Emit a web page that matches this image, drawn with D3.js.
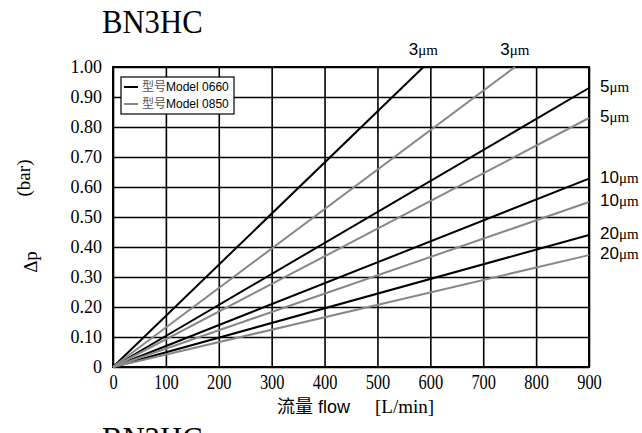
<!DOCTYPE html>
<html>
<head>
<meta charset="utf-8">
<script src="https://cdn.jsdelivr.net/npm/d3@7/dist/d3.min.js"></script>
<style>
  body { margin: 0; background: #fff; }
  svg { display: block; }
</style>
</head>
<body>
<div id="chart"></div>
<script>
// chart data
var flowTicks = [0, 100, 200, 300, 400, 500, 600, 700, 800, 900];
var dpTicks = [0, 0.1, 0.2, 0.3, 0.4, 0.5, 0.6, 0.7, 0.8, 0.9, 1.0];
var models = ["型号Model 0660", "型号Model 0850"];
var modelColors = ["#000000", "#888888"];
var grades = ["3", "5", "10", "20"];
// end point [flow, dp] of each straight line from origin
var model0660 = [[587, 1.00], [900, 0.93], [900, 0.628], [900, 0.44]];
var model0850 = [[760, 1.00], [900, 0.83], [900, 0.55], [900, 0.373]];

var W = 642, H = 433;
var svg = d3.select("#chart").append("svg").attr("width", W).attr("height", H);

var x = d3.scaleLinear().domain([0, 900]).range([113, 589]);
var y = d3.scaleLinear().domain([0, 1]).range([367, 67]);

var serif = "'Liberation Serif', 'DejaVu Serif', serif";
var sans = "'Liberation Sans', Arial, sans-serif";
var cjk = "'Noto Sans CJK SC', sans-serif";

// title (and the top of the next one cut off at the bottom)
svg.append("text").attr("transform", "translate(102,33) scale(0.93,1)").text("BN3HC")
  .attr("font-family", serif).attr("font-size", 33);
svg.append("text").attr("transform", "translate(102,450) scale(0.93,1)").text("BN3HC")
  .attr("font-family", serif).attr("font-size", 33);

// grid via axes
var xAxis = d3.axisBottom(x).tickValues(flowTicks).tickSize(-(y(0) - y(1))).tickPadding(8);
var gx = svg.append("g").attr("transform", "translate(0," + y(0) + ")").call(xAxis);
var yAxis = d3.axisLeft(y).tickValues(dpTicks).tickSize(-(x(900) - x(0))).tickPadding(11)
  .tickFormat(function (d) { return d === 0 ? "0" : d3.format(".2f")(d); });
var gy = svg.append("g").attr("transform", "translate(" + x(0) + ",0)").call(yAxis);

[gx, gy].forEach(function (g) {
  g.select(".domain").remove();
  g.selectAll("line").attr("stroke", "#000").attr("stroke-width", 1.6);
  g.selectAll("text").attr("font-family", serif).attr("font-size", 18).attr("fill", "#000");
});
gx.selectAll("text").attr("dy", "0.71em").attr("font-size", 20).attr("transform", "scale(0.82,1)");

// frame
svg.append("rect")
  .attr("x", x(0)).attr("y", y(1))
  .attr("width", x(900) - x(0)).attr("height", y(0) - y(1))
  .attr("fill", "none").attr("stroke", "#000").attr("stroke-width", 2);

// lines
var line = d3.line().x(function (d) { return x(d[0]); }).y(function (d) { return y(d[1]); });
[model0660, model0850].forEach(function (ends, mi) {
  ends.forEach(function (e) {
    svg.append("path").datum([[0, 0], e]).attr("d", line)
      .attr("fill", "none").attr("stroke", modelColors[mi]).attr("stroke-width", 2);
  });
});

// grade labels
function gradeLabel(px, py, g, anchor) {
  var t = svg.append("text").attr("x", px).attr("y", py).attr("text-anchor", anchor)
    .attr("fill", "#000");
  t.append("tspan").text(g).attr("font-family", sans).attr("font-size", 17);
  t.append("tspan").text("μm").attr("font-family", serif).attr("font-size", 15);
}
[model0660, model0850].forEach(function (ends, mi) {
  ends.forEach(function (e, gi) {
    if (e[1] >= 1) {
      gradeLabel(x(e[0]) + 0, y(1) - 12, grades[gi], "middle");
    } else {
      gradeLabel(x(900) + 11, y(e[1]) + 4, grades[gi], "start");
    }
  });
});

// legend
var lg = svg.append("g").attr("transform", "translate(121,77)");
lg.append("rect").attr("width", 113).attr("height", 37)
  .attr("fill", "#fff").attr("stroke", "#000").attr("stroke-width", 1.2);
models.forEach(function (m, i) {
  var yy = 10 + i * 17;
  lg.append("line").attr("x1", 3).attr("x2", 17).attr("y1", yy).attr("y2", yy)
    .attr("stroke", modelColors[i]).attr("stroke-width", 2);
  var t = lg.append("text").attr("x", 21).attr("y", yy + 4).attr("font-size", 12).attr("fill", "#000");
  t.append("tspan").text(m.slice(0, 2)).attr("font-family", cjk).attr("fill", "#555");
  t.append("tspan").text(m.slice(2)).attr("font-family", sans);
});

// axis titles
svg.append("text").attr("transform", "translate(30,178) rotate(-90)")
  .attr("text-anchor", "middle").attr("font-family", serif).attr("font-size", 19).text("(bar)");
svg.append("text").attr("transform", "translate(37,262) rotate(-90)")
  .attr("text-anchor", "middle").attr("font-family", serif).attr("font-size", 19).text("Δp");

var xt = svg.append("text").attr("x", 277).attr("y", 413).attr("font-size", 18).attr("fill", "#000");
xt.append("tspan").text("流量").attr("font-family", cjk);
xt.append("tspan").text("flow").attr("font-family", sans).attr("dx", 5);
xt.append("tspan").text("[L/min]").attr("font-family", serif).attr("font-size", 19).attr("dx", 25);
</script>
</body>
</html>
